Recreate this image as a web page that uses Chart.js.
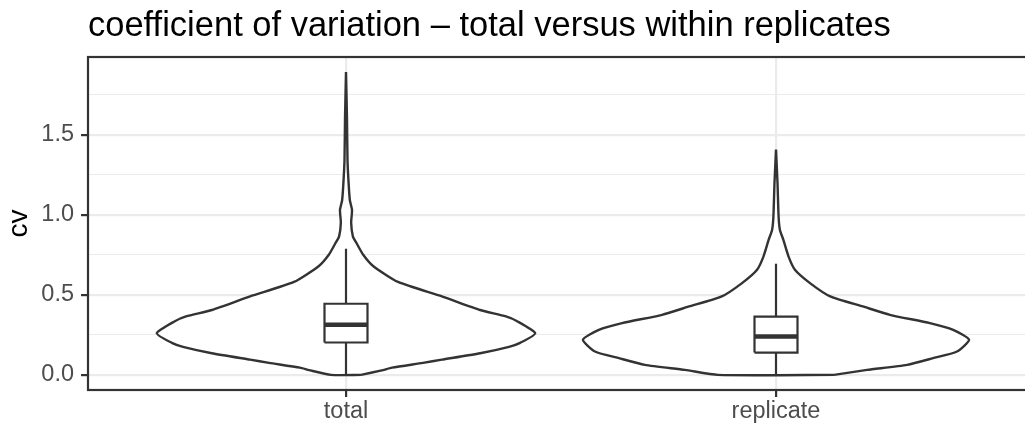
<!DOCTYPE html>
<html>
<head>
<meta charset="utf-8">
<script src="https://cdn.jsdelivr.net/npm/chart.js@4.4.1/dist/chart.umd.min.js"></script>
<style>
  html, body { margin: 0; padding: 0; overflow: hidden; background: #fff; }
</style>
</head>
<body>
<canvas id="myChart" width="1040" height="428"></canvas>
<script>
const categories = ["total", "replicate"];
const titleText = "coefficient of variation – total versus within replicates";
const yTicks = [0, 0.25, 0.5, 0.75, 1, 1.25, 1.5, 1.75];

// violin outlines: cv level and half width (in category units)
const totalCv    = [0, 0.03, 0.045, 0.075, 0.095, 0.135, 0.175, 0.2, 0.26, 0.335, 0.365, 0.405, 0.49, 0.58, 0.68, 0.75, 0.82, 0.865, 0.95, 1.03, 1.09, 1.2, 1.34, 1.6, 1.89];
const totalWidth = [0.035, 0.086, 0.107, 0.179, 0.223, 0.312, 0.379, 0.405, 0.44, 0.398, 0.372, 0.312, 0.223, 0.121, 0.063, 0.040, 0.025, 0.016, 0.012, 0.014, 0.009, 0.006, 0.0035, 0.0023, 0];
const repCv    = [0, 0.031, 0.0625, 0.104, 0.146, 0.219, 0.281, 0.323, 0.375, 0.427, 0.49, 0.573, 0.656, 0.74, 0.844, 0.906, 0.99, 1.198, 1.406];
const repWidth = [0.135, 0.212, 0.305, 0.365, 0.421, 0.449, 0.412, 0.358, 0.265, 0.202, 0.126, 0.079, 0.044, 0.029, 0.017, 0.009, 0.006, 0.0035, 0];

// boxplot: lower whisker, q1, median, q3, upper whisker
const totalBox = [0, 0.202, 0.3125, 0.444, 0.7875];
const repBox   = [0, 0.139, 0.239, 0.364, 0.694];

const ink = "#333333";
const boxHalf = 0.05;

function violin(pos, cv, w) {
  let pts = [];
  for (let i = 0; i < cv.length; i++) pts.push({ x: pos + w[i], y: cv[i] });
  for (let i = cv.length - 1; i >= 0; i--) pts.push({ x: pos - w[i], y: cv[i] });
  pts.push(pts[0]);
  return pts;
}

function boxShape(pos, b) {
  return [
    { x: pos - boxHalf, y: b[1] }, { x: pos + boxHalf, y: b[1] },
    { x: pos + boxHalf, y: b[3] }, { x: pos - boxHalf, y: b[3] },
    { x: pos - boxHalf, y: b[1] }
  ];
}

function lineSet(data, width, order, fill) {
  return {
    type: "line",
    data: data,
    borderColor: ink,
    borderWidth: width,
    backgroundColor: "#ffffff",
    fill: fill ? "shape" : false,
    pointRadius: 0,
    tension: 0,
    order: order,
  };
}

let datasets = [];
[totalBox, repBox].forEach((b, i) => {
  let pos = i + 1;
  datasets.push(lineSet([{ x: pos - boxHalf, y: b[2] }, { x: pos + boxHalf, y: b[2] }], 4.5, 1, false));
  datasets.push(lineSet(boxShape(pos, b), 2.2, 2, true));
  datasets.push(lineSet([{ x: pos, y: b[0] }, { x: pos, y: b[4] }], 2.2, 3, false));
});
let v1 = lineSet(violin(1, totalCv, totalWidth), 2.4, 4, true);
let v2 = lineSet(violin(2, repCv, repWidth), 2.4, 4, true);
v1.tension = 0.2; v2.tension = 0.2;
datasets.push(v1, v2);

const panelPlugin = {
  id: "panel",
  afterDraw(chart) {
    const c = chart.ctx, a = chart.chartArea;
    c.save();
    c.strokeStyle = ink;
    c.lineWidth = 2.2;
    c.strokeRect(a.left, a.top, a.right - a.left, a.bottom - a.top);
    c.font = '34.5px "Liberation Sans", Arial, sans-serif';
    c.fillStyle = "#000";
    c.textBaseline = "alphabetic";
    c.fillText(titleText, a.left, 36);
    c.restore();
  }
};

Chart.defaults.font.family = '"Liberation Sans", Arial, sans-serif';

let ctx = document.getElementById("myChart").getContext("2d");
let myChart = new Chart(ctx, {
  type: "scatter",
  data: { datasets: datasets },
  plugins: [panelPlugin],
  options: {
    responsive: false,
    devicePixelRatio: 1,
    animation: false,
    events: [],
    layout: { padding: { top: 57, right: 6, bottom: 0, left: 0 } },
    plugins: {
      legend: { display: false },
      tooltip: { enabled: false },
    },
    scales: {
      x: {
        type: "linear",
        min: 0.4,
        max: 2.6,
        afterBuildTicks: s => { s.ticks = categories.map((c, i) => ({ value: i + 1 })); },
        afterFit: s => { s.height = 38; },
        ticks: {
          autoSkip: false,
          maxRotation: 0,
          padding: 0,
          color: "#4D4D4D",
          font: { size: 23.5 },
          callback: v => categories[Math.round(v) - 1],
        },
        grid: { color: "#EBEBEB", lineWidth: 2.2, tickLength: 7, tickColor: ink, tickWidth: 2.2 },
        border: { display: false },
      },
      y: {
        type: "linear",
        min: -0.0945,
        max: 1.9845,
        afterBuildTicks: s => { s.ticks = yTicks.map(v => ({ value: v })); },
        afterFit: s => { s.width = 88; },
        ticks: {
          autoSkip: false,
          padding: 7,
          color: "#4D4D4D",
          font: { size: 23.5 },
          callback: v => (v % 0.5 === 0 ? v.toFixed(1) : ""),
        },
        grid: {
          color: "#EBEBEB",
          lineWidth: c => (c.tick && c.tick.value % 0.5 === 0 ? 2.2 : 1.1),
          tickLength: 7,
          tickColor: c => (c.tick && c.tick.value % 0.5 === 0 ? ink : "rgba(0,0,0,0)"),
          tickWidth: 2.2,
        },
        border: { display: false },
        title: {
          display: true,
          text: "cv",
          color: "#000",
          font: { size: 28 },
          padding: { top: 2, bottom: 0 },
        },
      },
    },
  },
});
</script>
</body>
</html>
